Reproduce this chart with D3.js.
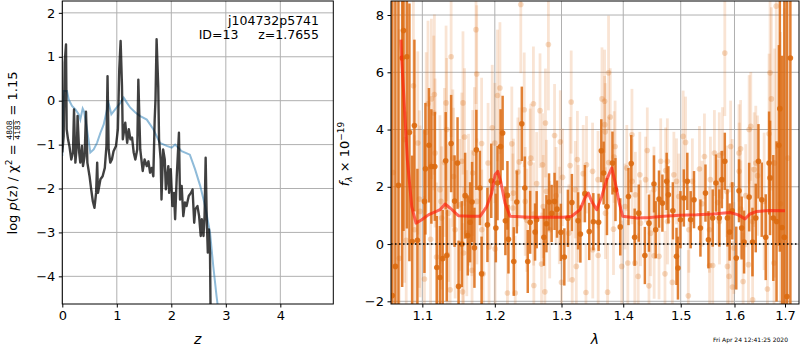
<!DOCTYPE html>
<html><head><meta charset="utf-8">
<script src="https://cdn.jsdelivr.net/npm/d3@7"></script>
<style>
body{margin:0;background:#fff}
svg{display:block}
text{font-family:"DejaVu Sans",sans-serif;white-space:pre}
</style>
</head><body>
<svg id="c" width="800" height="350"></svg>
<script>
// ---------- left panel: log p(z) ----------
const zTicks = [0, 1, 2, 3, 4];
const lpTicks = [-4, -3, -2, -1, 0, 1, 2];
const blueZ = [0, 0.012, 0.025, 0.086, 0.117, 0.178, 0.24, 0.30, 0.33, 0.374, 0.40, 0.453, 0.514, 0.576, 0.637, 0.70, 0.76, 0.82, 0.839, 0.90, 0.97, 1.065, 1.127, 1.187, 1.248, 1.34, 1.43, 1.55, 1.67, 1.79, 1.915, 2.007, 2.07, 2.19, 2.34, 2.435, 2.53, 2.62, 2.71, 2.77, 2.83, 2.86];
const blueP = [-1.26, -0.3, 0.22, 0.22, 0.03, -0.12, -0.2, -0.31, -0.43, -0.18, -0.25, -0.65, -1.18, -1.11, -0.96, -0.73, -0.54, -0.2, 0.0, -0.31, -0.2, -0.05, 0.07, -0.05, -0.16, -0.27, -0.35, -0.43, -0.65, -0.96, -1.03, -1.07, -1.0, -1.15, -1.23, -1.56, -1.94, -2.40, -3.0, -3.77, -4.45, -4.75];
const blackZ = [0, 0.025, 0.044, 0.068, 0.08, 0.105, 0.13, 0.165, 0.196, 0.215, 0.24, 0.27, 0.28, 0.31, 0.33, 0.36, 0.38, 0.41, 0.435, 0.46, 0.50, 0.53, 0.56, 0.59, 0.62, 0.64, 0.655, 0.70, 0.74, 0.78, 0.81, 0.83, 0.85, 0.88, 0.91, 0.94, 0.985, 1.02, 1.045, 1.07, 1.095, 1.11, 1.155, 1.19, 1.22, 1.25, 1.28, 1.31, 1.34, 1.375, 1.395, 1.43, 1.475, 1.51, 1.55, 1.58, 1.61, 1.64, 1.67, 1.695, 1.71, 1.73, 1.76, 1.775, 1.805, 1.82, 1.85, 1.88, 1.90, 1.945, 1.96, 1.99, 2.02, 2.05, 2.07, 2.10, 2.14, 2.16, 2.19, 2.22, 2.25, 2.28, 2.32, 2.36, 2.39, 2.42, 2.44, 2.48, 2.51, 2.54, 2.56, 2.59, 2.61, 2.63, 2.65, 2.67, 2.69, 2.71, 2.72];
const blackP = [-1.18, -0.81, 0.87, 1.28, -0.65, -0.88, -1.03, -1.34, -1.18, -0.2, -1.41, -0.96, -0.35, -1.18, -1.41, -1.03, -1.49, -1.26, -0.25, -1.41, -1.72, -2.02, -2.29, -2.44, -2.1, -1.41, -2.1, -1.79, -1.72, -1.53, -1.03, 0.56, -1.11, -1.41, -1.34, -1.15, -1.03, -0.65, 0.71, 1.36, 0.33, -0.88, -0.5, -0.96, -0.65, -0.88, -0.84, -1.18, -1.34, -1.11, 0.48, -1.11, -1.6, -1.34, -1.49, -1.38, -1.64, -1.53, -1.72, -0.43, 0.03, 1.40, 0.33, -0.88, -1.34, -2.25, -1.11, -1.34, -2.02, -1.49, -2.1, -1.56, -2.4, -2.1, -2.7, -1.72, -0.73, -2.25, -1.94, -2.63, -2.32, -2.4, -2.17, -2.1, -2.02, -2.78, -2.47, -2.4, -2.63, -3.08, -2.7, -3.08, -2.63, -1.30, -2.7, -3.46, -2.93, -3.46, -4.75];

// ---------- right panel: spectrum ----------
const lamTicks = [1.1, 1.2, 1.3, 1.4, 1.5, 1.6, 1.7];
const fluxTicks = [-2, 0, 2, 4, 6, 8];
const darkWave = [
 1.0610,1.0650,1.0689,1.0737,1.0754,1.0798,1.0831,1.0866,1.0896,1.0935,
 1.1028,1.1041,1.1088,1.1120,1.1166,1.1193,1.1235,1.1272,1.1313,1.1327,
 1.1387,1.1434,1.1475,1.1489,1.1534,1.1580,1.1617,1.1649,1.1677,1.1710,
 1.1737,1.1787,1.1811,1.1894,1.1949,1.2015,1.2039,1.2083,1.2113,1.2153,
 1.2183,1.2198,1.2276,1.2321,1.2395,1.2440,1.2484,1.2520,1.2594,1.2618,
 1.2728,1.2767,1.2807,1.2847,1.2892,1.2930,1.2990,1.3044,1.3100,1.3163,
 1.3261,1.3298,1.3370,1.3440,1.3506,1.3592,1.3636,1.3674,1.3729,1.3820,
 1.3870,1.3950,1.4088,1.4135,1.4193,1.4263,1.4368,1.4439,1.4526,1.4556,
 1.4614,1.4674,1.4749,1.4779,1.4859,1.4924,1.4950,1.4995,1.5056,1.5119,
 1.5180,1.5241,1.5359,1.5452,1.5507,1.5587,1.5648,1.5711,1.5759,1.5815,
 1.5865,1.5907,1.5957,1.6034,1.6087,1.6138,1.6185,1.6284,1.6349,1.6414,
 1.6467,1.6532,1.6611,1.6678,1.6698,1.6763,1.6828,1.6876,1.6895,1.6941,
 1.6986,1.7040,1.7110];
const darkFlux = [
 -1.8,-0.78,2.05,6.5,7.46,6.54,3.9,0.09,4.14,0.13,
 1.49,2.63,3.45,2.71,2.71,-0.82,-1.17,-0.51,2.91,-0.4,
 3.51,1.50,2.83,-1.48,0.0,1.69,0.3,0.76,1.47,-0.13,
 3.29,1.96,-1.04,0.67,2.21,0.56,2.13,3.41,3.88,0.81,
 1.70,0.17,-0.61,1.47,4.2,1.96,-0.61,0.76,0.42,0.85,
 0.24,0.71,1.47,1.07,1.49,1.22,0.41,-0.45,0.9,1.45,
 0.81,0.35,1.76,0.44,0.78,0.76,3.26,2.48,1.31,2.83,
 1.9,0.6,1.66,2.81,0.24,1.08,-0.4,0.73,2.1,0.5,
 1.57,1.43,2.19,1.72,1.16,-0.43,-0.84,0.85,1.61,2.19,
 0.85,1.55,0.56,1.78,0.15,0.91,2.13,0.91,2.25,2.89,
 0.91,0.42,1.16,-0.49,1.86,0.56,0.07,1.64,0.07,0.91,
 2.89,1.55,0.24,2.83,2.31,0.91,0.79,3.45,4.73,0.58,
 0.24,-1.83,6.5];
const darkErr = [
 12,10,9,8,7,6,4.5,3,3,2.5,
 2.5,2.3,2.0,2.0,1.9,1.8,1.8,1.7,1.7,1.6,
 1.7,1.6,1.6,1.6,1.5,1.5,1.4,1.4,1.4,1.4,
 1.4,1.3,1.3,1.3,1.3,1.2,1.3,1.3,1.3,1.2,
 1.2,1.2,1.2,1.1,1.3,1.1,1.1,1.1,1.0,1.0,
 1.0,1.0,1.0,1.0,1.0,1.0,1.0,1.0,1.0,1.0,
 1.0,1.0,1.0,1.0,1.0,1.0,1.1,1.1,1.0,1.1,
 1.1,1.0,1.0,1.0,1.0,1.0,1.0,1.0,1.0,1.0,
 1.0,1.0,1.0,1.0,1.0,1.0,1.1,1.0,1.0,1.0,
 1.0,1.0,1.0,1.0,1.0,1.0,1.0,1.0,1.0,1.0,
 1.0,1.0,1.0,1.1,1.1,1.1,1.1,1.2,1.2,1.2,
 1.3,1.3,1.5,1.8,2.0,2.2,2.8,3.5,5,6,
 9,12,15];
const lightWave = [
 1.0620,1.0700,1.0767,1.0789,1.0883,1.0896,1.0940,1.0961,1.0970,1.1028,
 1.1051,1.1075,1.1110,1.1120,1.1152,1.1160,1.1170,1.1189,1.1235,1.1249,
 1.1258,1.1296,1.1318,1.1327,1.1333,1.1351,1.1373,1.1387,1.1410,1.1420,
 1.1442,1.1503,1.1534,1.1544,1.1550,1.1558,1.1572,1.1603,1.1627,1.1673,
 1.1676,1.1686,1.1710,1.1732,1.1742,1.1745,1.1811,1.1814,1.1834,1.1903,
 1.1917,1.1963,1.2000,1.2004,1.2039,1.2074,1.2183,1.2247,1.2262,1.2272,
 1.2297,1.2336,1.2357,1.2380,1.2431,1.2446,1.2470,1.2520,1.2529,1.2569,
 1.2572,1.2575,1.2618,1.2669,1.2692,1.2707,1.2718,1.2743,1.2752,1.2767,
 1.2797,1.2817,1.2892,1.2915,1.2966,1.2981,1.3000,1.3016,1.3114,1.3135,
 1.3152,1.3168,1.3217,1.3233,1.3250,1.3264,1.3343,1.3387,1.3396,1.3494,
 1.3497,1.3582,1.3585,1.3647,1.3690,1.3692,1.3701,1.3704,1.3739,1.3755,
 1.3758,1.3783,1.3837,1.3848,1.3864,1.3974,1.4030,1.4060,1.4077,1.4147,
 1.4150,1.4196,1.4205,1.4253,1.4281,1.4293,1.4381,1.4410,1.4439,1.4468,
 1.4526,1.4529,1.4614,1.4644,1.4719,1.4731,1.4761,1.4764,1.4849,1.4877,
 1.4924,1.4965,1.5044,1.5087,1.5137,1.5148,1.5211,1.5341,1.5389,1.5433,
 1.5526,1.5529,1.5544,1.5587,1.5619,1.5680,1.5711,1.5714,1.5772,1.5815,
 1.5852,1.5865,1.5896,1.5926,1.5957,1.5960,1.5989,1.6087,1.6090,1.6118,
 1.6121,1.6166,1.6217,1.6270,1.6284,1.6316,1.6349,1.6352,1.6383,1.6414,
 1.6448,1.6580,1.6645,1.6678,1.6698,1.6724,1.6777,1.6789,1.6822,1.6907,
 1.6986,1.7060];
const lightFlux = [
 2.5,-0.5,3.65,0.13,5.53,0.5,3.53,1.57,1.14,-1.22,
 3.9,4.9,0.17,5.07,4.58,5.22,3.18,-0.45,1.90,1.49,
 0.91,2.85,4.93,4.0,-0.37,1.08,-1.6,6.54,3.0,2.36,
 0.5,1.37,2.89,-1.67,4.93,-0.31,3.74,0.38,1.55,1.08,
 -0.92,2.48,3.18,7.49,5.94,1.49,3.51,0.5,-1.04,2.83,
 -0.1,4.06,3.53,-0.17,5.19,5.45,-1.71,3.5,1.26,1.78,
 -1.71,2.52,2.87,8.37,4.69,1.49,0.83,2.83,3.0,4.9,
 1.05,-1.45,2.11,4.66,-0.7,2.77,1.31,-1.67,4.23,1.84,
 6.97,0.5,3.79,1.69,1.0,3.57,-1.34,2.33,0.38,2.74,
 4.96,-1.25,1.9,-0.78,2.95,1.06,2.46,-1.69,2.77,2.54,
 -0.2,2.25,-0.4,5.07,4.99,4.17,3.92,1.08,-1.68,5.98,
 2.85,4.44,0.52,3.04,3.41,-0.78,1.31,2.66,-0.66,3.82,
 2.19,-0.66,1.72,-1.13,2.42,0.73,2.25,3.27,-1.46,0.38,
 1.9,-0.41,-0.43,2.89,-1.04,2.57,2.89,0.79,-1.34,2.42,
 2.19,1.66,3.76,3.55,-1.81,0.5,2.19,2.62,1.41,3.06,
 0.5,-0.75,2.25,-0.75,3.18,1.45,3.1,0.79,3.18,6.67,
 1.84,-0.78,-1.13,3.41,2.07,-1.5,-0.14,3.18,2.54,3.33,
 1.22,-1.31,1.69,-0.72,4.0,4.11,0.79,-1.95,2.6,2.83,
 2.39,1.49,-1.57,3.85,5.98,5.07,-0.66,2.83,8.31,1.41,
 0.24,3.0];
const lightErr = [
 9,8,5,4.5,3.6,3.3,3.2,3.1,3.0,2.9,
 2.8,2.9,2.7,2.8,2.7,2.8,2.6,2.6,2.6,2.5,
 2.5,2.6,2.7,2.5,2.4,2.4,2.5,2.8,2.4,2.4,
 2.4,2.3,2.4,2.4,2.5,2.3,2.4,2.2,2.3,2.2,
 2.3,2.2,2.3,2.6,2.4,2.2,2.3,2.1,2.2,2.1,
 2.1,2.2,2.1,2.1,2.3,2.3,2.0,2.0,1.9,1.9,
 2.0,1.9,1.9,2.4,2.0,1.9,1.8,1.9,1.9,2.0,
 1.8,1.8,1.8,2.0,1.8,1.8,1.8,1.8,1.9,1.8,
 2.3,1.7,1.8,1.7,1.7,1.8,1.7,1.7,1.7,1.7,
 1.8,1.7,1.7,1.7,1.7,1.7,1.7,1.7,1.7,1.7,
 1.7,1.7,1.7,1.8,1.8,1.7,1.7,1.6,1.7,2.0,
 1.6,1.7,1.6,1.6,1.6,1.6,1.5,1.5,1.5,1.6,
 1.5,1.5,1.5,1.5,1.5,1.5,1.5,1.5,1.5,1.5,
 1.5,1.5,1.5,1.5,1.5,1.5,1.5,1.5,1.5,1.5,
 1.5,1.5,1.6,1.6,1.6,1.5,1.5,1.5,1.5,1.5,
 1.5,1.5,1.5,1.5,1.5,1.5,1.5,1.5,1.6,2.2,
 1.6,1.6,1.6,1.6,1.6,1.6,1.6,1.7,1.7,1.7,
 1.7,1.7,1.8,1.8,1.9,1.9,1.9,1.9,2.0,2.0,
 2.1,2.4,2.6,2.8,3.0,3.2,3.6,4,5,6,
 8,12];
const modelWave = [1.0722,1.0731,1.0761,1.0804,1.0861,1.0917,1.0992,1.1080,1.1169,1.1236,1.1304,1.1372,1.1486,1.1648,1.1789,1.1884,1.1955,1.2003,1.2042,1.2085,1.2148,1.2221,1.2518,1.2771,1.3028,1.3160,1.3292,1.3372,1.3425,1.3480,1.3561,1.3643,1.3725,1.3808,1.3874,1.3934,1.3991,1.4228,1.4457,1.4690,1.4987,1.5290,1.5598,1.5914,1.6073,1.6203,1.6301,1.6432,1.6697,1.7000];
const modelFlux = [7.14,6.45,5.04,2.95,1.31,0.73,0.85,1.02,1.12,1.2,1.40,1.26,0.99,0.97,0.97,1.31,1.78,2.42,2.54,2.19,1.43,0.97,0.94,0.94,0.94,0.97,1.2,1.61,1.78,1.49,1.2,1.66,2.25,2.66,2.07,1.43,0.97,0.91,0.93,0.97,1.01,1.02,1.05,1.10,1.02,0.88,1.05,1.14,1.17,1.16];

const objName = "j104732p5741";
const objInfo = "ID=13     z=1.7655";
const stamp = "Fri Apr 24 12:41:25 2020";

// ---------- drawing ----------
const svg = d3.select("#c");
const GRID = "#b0b0b0";
const ORANGE = "#dc6a10";

const lx = d3.scaleLinear([0, 4.972], [62.3, 333.3]);
const ly = d3.scaleLinear([-4.63, 2.27], [304, 1]);
const rx = d3.scaleLog([1.0594, 1.7288], [391, 799]);
const ry = d3.scaleLinear([-2.094, 8.49], [304, 1]);

const defs = svg.append("defs");
defs.append("clipPath").attr("id","clipL").append("rect")
  .attr("x",62.3).attr("y",1).attr("width",271).attr("height",303);
defs.append("clipPath").attr("id","clipR").append("rect")
  .attr("x",391).attr("y",1).attr("width",408).attr("height",303);

function grid(xs, ys, xT, yT) {
  const g = svg.append("g");
  const [x0, x1] = xs.range(), [y0, y1] = ys.range();
  g.selectAll(".gx").data(xT).join("line")
    .attr("x1", d => xs(d)).attr("x2", d => xs(d)).attr("y1", y0).attr("y2", y1)
    .attr("stroke", GRID).attr("stroke-width", 1);
  g.selectAll(".gy").data(yT).join("line")
    .attr("y1", d => ys(d)).attr("y2", d => ys(d)).attr("x1", x0).attr("x2", x1)
    .attr("stroke", GRID).attr("stroke-width", 1);
}
grid(lx, ly, zTicks, lpTicks);
grid(rx, ry, lamTicks, fluxTicks);

// left lines
const gL = svg.append("g").attr("clip-path","url(#clipL)");
const blueData = blueZ.map((z,i)=>[z, blueP[i]]);
const blackData = blackZ.map((z,i)=>[z, blackP[i]]);
const lineL = d3.line().x(d=>lx(d[0])).y(d=>ly(d[1]));
gL.append("path").attr("d", lineL(blueData)).attr("fill","none")
  .attr("stroke","#1f77b4").attr("stroke-opacity",0.5).attr("stroke-width",2);
gL.append("path").attr("d", lineL(blackData)).attr("fill","none")
  .attr("stroke","#000").attr("stroke-opacity",0.75).attr("stroke-width",2.4)
  .attr("stroke-linejoin","round");

// right spectrum
const gR = svg.append("g").attr("clip-path","url(#clipR)");
const light = lightWave.map((w,i)=>({w, f:lightFlux[i], e:lightErr[i]}));
const dark = darkWave.map((w,i)=>({w, f:darkFlux[i], e:darkErr[i]}));
gR.append("g").selectAll("line").data(light).join("line")
  .attr("x1",d=>rx(d.w)).attr("x2",d=>rx(d.w))
  .attr("y1",d=>ry(d.f-d.e)).attr("y2",d=>ry(d.f+d.e))
  .attr("stroke",ORANGE).attr("stroke-opacity",0.18).attr("stroke-width",2.8);
gR.append("g").selectAll("circle").data(light).join("circle")
  .attr("cx",d=>rx(d.w)).attr("cy",d=>ry(d.f)).attr("r",2.8)
  .attr("fill",ORANGE).attr("fill-opacity",0.25);
gR.append("g").selectAll("line").data(dark).join("line")
  .attr("x1",d=>rx(d.w)).attr("x2",d=>rx(d.w))
  .attr("y1",d=>ry(d.f-d.e)).attr("y2",d=>ry(d.f+d.e))
  .attr("stroke",ORANGE).attr("stroke-opacity",0.85).attr("stroke-width",2.5);
gR.append("g").selectAll("circle").data(dark).join("circle")
  .attr("cx",d=>rx(d.w)).attr("cy",d=>ry(d.f)).attr("r",2.8)
  .attr("fill",ORANGE).attr("fill-opacity",0.9);
const modelData = modelWave.map((w,i)=>[w, modelFlux[i]]);
gR.append("path").attr("d", d3.line().x(d=>rx(d[0])).y(d=>ry(d[1]))(modelData))
  .attr("fill","none").attr("stroke","#ff1a0a").attr("stroke-opacity",0.65)
  .attr("stroke-width",3).attr("stroke-linejoin","round");
gR.append("line").attr("x1",391).attr("x2",799).attr("y1",ry(0)).attr("y2",ry(0))
  .attr("stroke","#000").attr("stroke-width",1.5).attr("stroke-dasharray","1.5,2.5");

// frames + axes
function frame(xs, ys) {
  const [x0, x1] = xs.range(), [y0, y1] = ys.range();
  svg.append("rect").attr("x",x0).attr("y",y1).attr("width",x1-x0).attr("height",y0-y1)
    .attr("fill","none").attr("stroke","#000").attr("stroke-width",1);
}
frame(lx, ly); frame(rx, ry);

function axes(xs, ys, xT, yT, xfmt, yfmt) {
  const [x0] = xs.range(), [y0] = ys.range();
  const ax = svg.append("g").attr("transform",`translate(0,${y0})`)
    .call(d3.axisBottom(xs).tickValues(xT).tickFormat(xfmt).tickSize(3.5).tickPadding(3.5).tickSizeOuter(0));
  const ay = svg.append("g").attr("transform",`translate(${x0},0)`)
    .call(d3.axisLeft(ys).tickValues(yT).tickFormat(yfmt).tickSize(3.5).tickPadding(3.5).tickSizeOuter(0));
  [ax, ay].forEach(a => {
    a.select(".domain").remove();
    a.selectAll("text").attr("font-size",13).attr("font-family","DejaVu Sans").attr("fill","#000");
    a.selectAll("line").attr("stroke","#000");
  });
}
axes(lx, ly, zTicks, lpTicks, d3.format("d"), d3.format("d"));
axes(rx, ry, lamTicks, fluxTicks, d3.format(".1f"), d3.format("d"));

// annotations
svg.append("text").attr("x",319).attr("y",24.5).attr("text-anchor","end").attr("font-size",12.5).text(objName);
svg.append("text").attr("x",319).attr("y",39).attr("text-anchor","end").attr("font-size",12.5).text(objInfo);

// x labels
svg.append("text").attr("x",197.8).attr("y",344).attr("text-anchor","middle").attr("font-size",14)
  .attr("font-style","italic").text("z");
svg.append("text").attr("x",595).attr("y",344).attr("text-anchor","middle").attr("font-size",14)
  .attr("font-style","italic").text("λ");
svg.append("text").attr("x",788).attr("y",342).attr("text-anchor","end").attr("font-size",6).text(stamp);

// left y label with fraction
const gl = svg.append("g");
const p1 = gl.append("text").attr("font-size",13);
p1.append("tspan").text("log ");
p1.append("tspan").attr("font-style","italic").text("p");
p1.append("tspan").text("(z) / χ");
p1.append("tspan").attr("font-size",9).attr("dy",-5).text("2");
p1.append("tspan").attr("font-size",13).attr("dy",5).text(" = ");
const w1 = p1.node().getComputedTextLength();
const num = gl.append("text").attr("font-size",7.5).attr("y",-4.6).attr("text-anchor","middle").text("4808");
const den = gl.append("text").attr("font-size",7.5).attr("y",3.0).attr("text-anchor","middle").text("4183");
const wf = Math.max(num.node().getComputedTextLength(), den.node().getComputedTextLength()) + 1.5;
num.attr("x", w1 + wf/2); den.attr("x", w1 + wf/2);
gl.append("line").attr("x1",w1).attr("x2",w1+wf).attr("y1",-3.5).attr("y2",-3.5)
  .attr("stroke","#000").attr("stroke-width",0.6);
const p3 = gl.append("text").attr("font-size",13).attr("x",w1+wf).text(" = 1.15");
const total = w1 + wf + p3.node().getComputedTextLength();
gl.attr("transform",`translate(17,153) rotate(-90) translate(${-total/2},0)`);

// right y label
const gr = svg.append("g").attr("transform","translate(349,154) rotate(-90)");
const tr = gr.append("text").attr("text-anchor","middle").attr("font-size",13);
tr.append("tspan").attr("font-style","italic").text("f");
tr.append("tspan").attr("font-size",9).attr("dy",3).attr("font-style","italic").text("λ");
tr.append("tspan").attr("dy",-3).text(" × 10");
tr.append("tspan").attr("font-size",9).attr("dy",-5).text("−19");
</script>
</body></html>
